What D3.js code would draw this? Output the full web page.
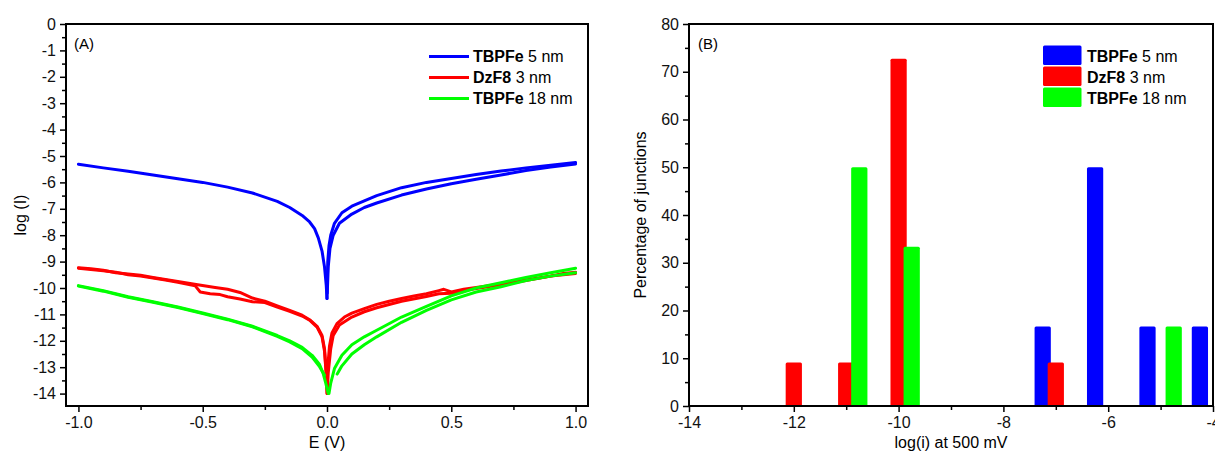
<!DOCTYPE html>
<html><head><meta charset="utf-8">
<script src="https://cdn.jsdelivr.net/npm/d3@7"></script>
<style>body{margin:0;background:#fff}svg{display:block;font-family:"Liberation Sans",Arial,sans-serif}</style>
</head><body><svg id="c" width="1215" height="452"></svg>
<script>
// ---------- DATA ----------
const legendBold = ["TBPFe", "DzF8", "TBPFe"];
const legendRest = [" 5 nm", " 3 nm", " 18 nm"];
const seriesColors = ["#0000ff", "#ff0000", "#00ff00"];

// Panel A: log(I) vs E(V), each series has forward / reverse branches
const blueBranchLeft = [[-1,-5.31],[-0.9,-5.45],[-0.8,-5.58],[-0.7,-5.72],[-0.6,-5.86],[-0.5,-6.0],[-0.4,-6.18],[-0.3,-6.4],[-0.2,-6.72],[-0.15,-6.95],[-0.1,-7.25],[-0.07,-7.5],[-0.05,-7.75],[-0.035,-8.1],[-0.02,-8.6],[-0.01,-9.2],[-0.003,-9.9],[0,-10.4]];
const blueBranchRightUp = [[0,-10.4],[0.003,-9.0],[0.008,-8.4],[0.015,-8.0],[0.03,-7.55],[0.06,-7.15],[0.1,-6.9],[0.15,-6.7],[0.2,-6.5],[0.3,-6.2],[0.4,-6.0],[0.5,-5.85],[0.6,-5.7],[0.7,-5.57],[0.8,-5.45],[0.9,-5.35],[1.0,-5.25]];
const blueBranchRightLow = [[0.001,-10.2],[0.005,-9.2],[0.012,-8.5],[0.025,-8.0],[0.05,-7.55],[0.1,-7.2],[0.15,-6.95],[0.2,-6.78],[0.3,-6.48],[0.4,-6.25],[0.5,-6.05],[0.6,-5.88],[0.7,-5.72],[0.8,-5.55],[0.9,-5.42],[1.0,-5.3]];

const redBranchA = [[-1,-9.23],[-0.95,-9.27],[-0.9,-9.33],[-0.85,-9.42],[-0.8,-9.47],[-0.75,-9.52],[-0.7,-9.6],[-0.65,-9.68],[-0.6,-9.75],[-0.52,-9.88],[-0.45,-9.98],[-0.4,-10.05],[-0.35,-10.17],[-0.3,-10.38],[-0.25,-10.5],[-0.2,-10.68],[-0.15,-10.85],[-0.1,-11.03],[-0.07,-11.2],[-0.04,-11.45],[-0.02,-11.8],[-0.01,-12.3],[-0.003,-13.2],[0,-14.0],[0.003,-13.0],[0.01,-12.2],[0.02,-11.7],[0.04,-11.35],[0.07,-11.1],[0.1,-10.95],[0.15,-10.78],[0.2,-10.62],[0.25,-10.5],[0.3,-10.4],[0.35,-10.3],[0.4,-10.22],[0.45,-10.1],[0.47,-10.05],[0.5,-10.15],[0.55,-10.05],[0.6,-9.98],[0.7,-9.85],[0.8,-9.7],[0.9,-9.55],[0.95,-9.45],[1.0,-9.4]];
const redBranchB = [[-1,-9.25],[-0.95,-9.3],[-0.9,-9.35],[-0.85,-9.4],[-0.8,-9.5],[-0.75,-9.55],[-0.7,-9.62],[-0.65,-9.7],[-0.6,-9.78],[-0.53,-9.92],[-0.51,-10.15],[-0.47,-10.22],[-0.43,-10.25],[-0.4,-10.33],[-0.35,-10.42],[-0.3,-10.52],[-0.25,-10.55],[-0.2,-10.72],[-0.15,-10.88],[-0.1,-11.06],[-0.07,-11.22],[-0.04,-11.48],[-0.02,-11.85],[-0.01,-12.4],[-0.003,-13.3],[0.001,-14.0],[0.005,-13.2],[0.015,-12.3],[0.025,-11.8],[0.05,-11.4],[0.1,-11.1],[0.15,-10.9],[0.2,-10.75],[0.3,-10.5],[0.4,-10.32],[0.45,-10.22],[0.5,-10.2],[0.55,-10.1],[0.6,-10.02],[0.7,-9.88],[0.8,-9.72],[0.9,-9.55],[1.0,-9.45]];

const greenBranchA = [[-1,-9.91],[-0.9,-10.1],[-0.8,-10.33],[-0.7,-10.52],[-0.6,-10.72],[-0.5,-10.95],[-0.4,-11.18],[-0.3,-11.45],[-0.2,-11.8],[-0.15,-12.0],[-0.1,-12.25],[-0.06,-12.55],[-0.03,-12.9],[-0.015,-13.25],[-0.005,-13.6],[0.005,-14.0],[0.008,-14.0],[0.015,-13.6],[0.03,-13.05],[0.06,-12.55],[0.1,-12.15],[0.15,-11.85],[0.2,-11.6],[0.3,-11.1],[0.4,-10.7],[0.5,-10.3],[0.6,-10.0],[0.7,-9.8],[0.8,-9.6],[0.9,-9.42],[1.0,-9.25]];
const greenBranchB = [[-1,-9.93],[-0.9,-10.12],[-0.8,-10.35],[-0.7,-10.54],[-0.6,-10.74],[-0.5,-10.97],[-0.4,-11.2],[-0.3,-11.47],[-0.2,-11.83],[-0.15,-12.04],[-0.1,-12.3],[-0.06,-12.62],[-0.03,-12.98],[-0.01,-13.3]];
const greenBranchC = [[0.041,-13.26],[0.06,-12.95],[0.1,-12.5],[0.15,-12.15],[0.2,-11.85],[0.3,-11.3],[0.4,-10.85],[0.5,-10.45],[0.6,-10.15],[0.7,-9.95],[0.8,-9.72],[0.9,-9.55],[1.0,-9.42]];

const curvesA = [
  [blueBranchLeft, blueBranchRightUp, blueBranchRightLow],
  [redBranchA, redBranchB],
  [greenBranchA, greenBranchB, greenBranchC]
];

const xTicksA = [-1.0, -0.5, 0.0, 0.5, 1.0];
const xTickLabelsA = ["-1.0", "-0.5", "0.0", "0.5", "1.0"];
const yTicksA = [0,-1,-2,-3,-4,-5,-6,-7,-8,-9,-10,-11,-12,-13,-14];

// Panel B: histogram, bin centre and percentage
const binCentersBlue = [-7.25, -6.25, -5.25, -4.25];
const binValuesBlue = [16.67, 50, 16.67, 16.67];
const binCentersRed = [-12, -11, -10, -7];
const binValuesRed = [9.09, 9.09, 72.73, 9.09];
const binCentersGreen = [-10.75, -9.75, -4.75];
const binValuesGreen = [50, 33.33, 16.67];
const xTicksB = [-14, -12, -10, -8, -6, -4];
const yTicksB = [0, 10, 20, 30, 40, 50, 60, 70, 80];

// ---------- DRAW ----------
const svg = d3.select("#c");
const FS = 16;
const fmtMinus = v => String(v).replace("\u2212", "-");

function frame(g, x0, y0, x1, y1) {
  g.append("rect").attr("x", x0).attr("y", y0).attr("width", x1 - x0).attr("height", y1 - y0)
    .attr("fill", "none").attr("stroke", "#000").attr("stroke-width", 2);
}

// ----- Panel A -----
const xA = d3.scaleLinear().domain([-1.05, 1.05]).range([66, 588]);
const yA = d3.scaleLinear().domain([-14.47, 0]).range([406, 24]);
const gA = svg.append("g");

const lineA = d3.line().x(d => xA(d[0])).y(d => yA(d[1]));
curvesA.forEach((branches, i) => {
  branches.forEach(b => {
    gA.append("path").attr("d", lineA(b)).attr("fill", "none")
      .attr("stroke", seriesColors[i]).attr("stroke-width", 3)
      .attr("stroke-linejoin", "round").attr("stroke-linecap", "round");
  });
});

const axAx = d3.axisBottom(xA).tickValues(xTicksA).tickSize(6).tickPadding(5)
  .tickFormat((d, i) => xTickLabelsA[i]);
gA.append("g").attr("transform", "translate(0,406)").call(axAx);
const axAxMinor = d3.axisBottom(xA).tickValues([-0.75, -0.25, 0.25, 0.75]).tickSize(4).tickFormat("");
gA.append("g").attr("transform", "translate(0,406)").call(axAxMinor);

const axAy = d3.axisLeft(yA).tickValues(yTicksA).tickSize(6).tickPadding(4).tickFormat(fmtMinus);
gA.append("g").attr("transform", "translate(66,0)").call(axAy);
const yMinorA = d3.range(0, 14, 1).map(v => -v - 0.5);
gA.append("g").attr("transform", "translate(66,0)")
  .call(d3.axisLeft(yA).tickValues(yMinorA).tickSize(4).tickFormat(""));

frame(gA, 66, 24, 588, 406);

gA.append("text").attr("x", 74).attr("y", 49).attr("font-size", 15).text("(A)");
gA.append("text").attr("x", 327).attr("y", 448).attr("text-anchor", "middle").attr("font-size", FS).text("E (V)");
gA.append("text").attr("transform", "translate(26,215) rotate(-90)").attr("text-anchor", "middle")
  .attr("font-size", FS).text("log (I)");

// legend A
legendBold.forEach((b, i) => {
  const y = 56.5 + i * 21;
  gA.append("line").attr("x1", 429).attr("x2", 469).attr("y1", y).attr("y2", y)
    .attr("stroke", seriesColors[i]).attr("stroke-width", 3);
  const t = gA.append("text").attr("x", 473).attr("y", y + 5.5).attr("font-size", FS);
  t.append("tspan").attr("font-weight", "bold").text(b);
  t.append("tspan").text(legendRest[i]);
});

// ----- Panel B -----
const xB = d3.scaleLinear().domain([-14, -4]).range([689, 1213]);
const yB = d3.scaleLinear().domain([0, 80]).range([406, 24]);
const gB = svg.append("g");
const barW = 0.31;

const barSets = [
  [binCentersBlue, binValuesBlue],
  [binCentersRed, binValuesRed],
  [binCentersGreen, binValuesGreen]
];
barSets.forEach(([cs, vs], i) => {
  gB.selectAll(null).data(cs.map((c, k) => [c, vs[k]])).enter().append("rect")
    .attr("x", d => xB(d[0] - barW / 2))
    .attr("width", d => xB(d[0] + barW / 2) - xB(d[0] - barW / 2))
    .attr("y", d => yB(d[1]))
    .attr("height", d => yB(0) - yB(d[1]))
    .attr("rx", 1.5)
    .attr("fill", seriesColors[i]);
});

gB.append("g").attr("transform", "translate(0,406)")
  .call(d3.axisBottom(xB).tickValues(xTicksB).tickSize(6).tickPadding(5).tickFormat(fmtMinus));
gB.append("g").attr("transform", "translate(0,406)")
  .call(d3.axisBottom(xB).tickValues([-13, -11, -9, -7, -5]).tickSize(4).tickFormat(""));
gB.append("g").attr("transform", "translate(689,0)")
  .call(d3.axisLeft(yB).tickValues(yTicksB).tickSize(6).tickPadding(4).tickFormat(fmtMinus));
gB.append("g").attr("transform", "translate(689,0)")
  .call(d3.axisLeft(yB).tickValues([5, 15, 25, 35, 45, 55, 65, 75]).tickSize(4).tickFormat(""));

frame(gB, 689, 24, 1213, 406);

gB.append("text").attr("x", 698).attr("y", 49).attr("font-size", 15).text("(B)");
gB.append("text").attr("x", 951).attr("y", 448).attr("text-anchor", "middle").attr("font-size", FS).text("log(i) at 500 mV");
gB.append("text").attr("transform", "translate(646,215) rotate(-90)").attr("text-anchor", "middle")
  .attr("font-size", FS).text("Percentage of junctions");

legendBold.forEach((b, i) => {
  const y = 45.5 + i * 21;
  gB.append("rect").attr("x", 1043).attr("y", y).attr("width", 38.5).attr("height", 19.5)
    .attr("rx", 1.5).attr("fill", seriesColors[i]);
  const t = gB.append("text").attr("x", 1087).attr("y", y + 16).attr("font-size", FS);
  t.append("tspan").attr("font-weight", "bold").text(b);
  t.append("tspan").text(legendRest[i]);
});

// axis styling
svg.selectAll(".domain").remove();
svg.selectAll(".tick line").attr("stroke", "#000").attr("stroke-width", 1.5);
svg.selectAll(".tick text").attr("font-size", FS).attr("fill", "#111")
  .attr("font-family", "'Liberation Sans', Arial, sans-serif");
</script></body></html>
